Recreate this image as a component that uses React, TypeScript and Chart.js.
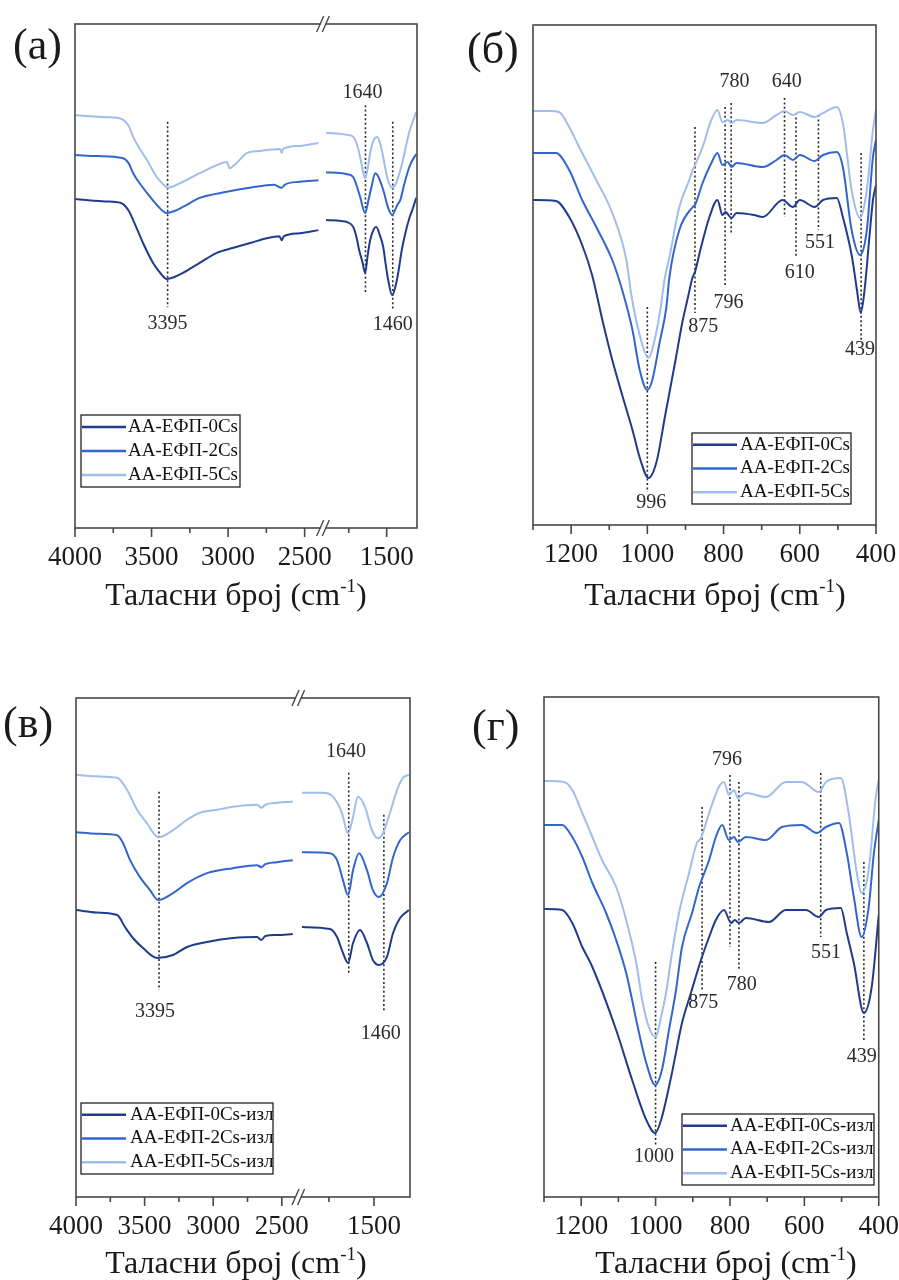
import React, { useEffect, useRef } from "react";
import { Chart, registerables } from "chart.js";
Chart.register(...registerables);

type Pt = [number, number];
type Ann = { axis: string; x: number; y0: number; y1: number; label: string; lx: number; ly: number };

// ---------- labels / colours ----------
const LABELS_1 = ["АА-ЕФП-0Cs", "АА-ЕФП-2Cs", "АА-ЕФП-5Cs"];
const LABELS_2 = ["АА-ЕФП-0Cs-изл", "АА-ЕФП-2Cs-изл", "АА-ЕФП-5Cs-изл"];
const COLORS = ["#203b8c", "#3366cc", "#a0bdec"];
const X_TITLE = "Таласни број (cm";
const X_TITLE_SUP = "-1";
const X_TITLE_END = ")";

// ---------- tick values ----------
const TICKS_HI_MAJOR = [4000, 3500, 3000, 2500];
const TICKS_HI_MINOR = [3750, 3250, 2750];
const TICKS_MID_MAJOR = [1500];
const TICKS_MID_MINOR = [1750];
const TICKS_LO_MAJOR = [1200, 1000, 800, 600, 400];
const TICKS_LO_MINOR = [1300, 1100, 900, 700, 500];

// ---------- panel (а) ----------
const A0_HI: Pt[] = [[4000,65.3],[3900,65.0],[3800,64.8],[3700,64.5],[3650,63.0],[3620,61.1],[3555,56.5],[3490,52.6],[3440,50.5],[3400,49.4],[3350,49.8],[3295,50.6],[3185,52.6],[3074,54.6],[2965,55.6],[2850,56.6],[2748,57.5],[2665,57.9],[2650,57.1],[2635,57.9],[2532,58.5],[2410,59.1]];
const A0_MID: Pt[] = [[1900,61.1],[1800,60.9],[1760,60.7],[1720,59.7],[1700,57.8],[1682,55.2],[1660,52.8],[1642,50.6],[1625,54.2],[1609,57.1],[1585,59.3],[1569,59.7],[1545,58.1],[1523,55.8],[1505,52.0],[1490,49.2],[1464,46.2],[1440,48.2],[1424,50.6],[1400,55.2],[1377,58.5],[1350,61.5],[1331,63.1],[1305,65.5]];
const A2_HI: Pt[] = [[4000,74.0],[3850,73.8],[3690,73.4],[3650,72.4],[3620,70.4],[3580,68.5],[3530,66.5],[3465,64.1],[3400,62.5],[3350,62.9],[3295,63.7],[3185,65.5],[3008,66.7],[2858,67.5],[2700,68.1],[2650,67.5],[2630,68.1],[2532,68.7],[2410,69.0]];
const A2_MID: Pt[] = [[1900,70.6],[1800,70.4],[1760,70.2],[1720,69.6],[1700,68.1],[1675,65.7],[1642,62.5],[1620,65.1],[1600,67.7],[1575,70.4],[1560,70.0],[1523,67.1],[1490,63.5],[1464,62.1],[1430,64.1],[1410,65.1],[1385,68.1],[1364,70.4],[1340,72.4],[1305,74.2]];
const A5_HI: Pt[] = [[4000,81.9],[3900,81.7],[3800,81.5],[3710,81.3],[3650,79.8],[3620,77.6],[3580,75.4],[3530,73.0],[3465,69.6],[3420,68.1],[3395,67.5],[3350,67.9],[3295,68.7],[3185,70.4],[3074,72.0],[3008,72.6],[2990,71.4],[2960,72.0],[2945,72.4],[2878,74.4],[2800,74.8],[2748,75.0],[2660,75.2],[2650,74.4],[2640,75.2],[2532,75.8],[2410,76.4]];
const A5_MID: Pt[] = [[1900,78.4],[1800,78.2],[1760,78.0],[1720,77.6],[1695,76.0],[1675,73.6],[1655,70.6],[1642,69.4],[1625,71.4],[1609,74.4],[1585,77.0],[1563,77.6],[1540,76.0],[1523,73.6],[1495,69.4],[1464,67.5],[1440,68.3],[1410,71.0],[1385,74.0],[1364,77.0],[1340,79.6],[1305,82.5]];
const A_ANN: Ann[] = [
  { axis: "xHi", x: 3395, y0: 80.6, y1: 43.8, label: "3395", lx: 3395, ly: 40.5 },
  { axis: "xMid", x: 1640, y0: 83.9, y1: 46.6, label: "1640", lx: 1660, ly: 86.3 },
  { axis: "xMid", x: 1460, y0: 80.6, y1: 43.3, label: "1460", lx: 1460, ly: 40.3 },
];

// ---------- panel (б) ----------
const B0: Pt[] = [[1300,65.0],[1240,64.8],[1205,61.6],[1171,56.0],[1145,50.0],[1118,41.0],[1092,33.0],[1066,26.0],[1039,19.0],[1018,13.0],[997,9.4],[976,12.6],[953,22.0],[926,33.0],[908,40.6],[895,45.0],[881,49.6],[875,50.6],[861,55.0],[837,61.6],[816,65.0],[803,62.0],[795,62.6],[779,61.4],[766,62.4],[720,62.0],[697,61.6],[645,65.0],[618,63.6],[600,65.0],[561,63.6],[539,65.0],[503,65.4],[487,61.6],[463,53.6],[450,47.0],[440,42.4],[430,47.0],[418,57.0],[408,65.0],[400,68.0]];
const B2: Pt[] = [[1300,74.4],[1240,74.4],[1205,71.0],[1171,65.0],[1134,59.6],[1092,53.0],[1066,47.0],[1039,39.0],[1020,31.0],[1000,27.0],[987,29.0],[968,36.4],[950,43.6],[942,49.6],[916,59.0],[881,63.6],[875,64.0],[855,68.4],[832,72.4],[816,74.4],[803,72.0],[789,72.6],[779,71.6],[766,72.4],[697,71.6],[661,73.0],[640,74.0],[618,73.0],[600,74.0],[561,72.8],[539,74.0],[503,74.6],[487,71.6],[464,59.0],[442,54.0],[424,59.0],[408,73.6],[400,77.0]];
const B5: Pt[] = [[1300,82.8],[1260,82.8],[1232,82.6],[1205,79.6],[1179,75.6],[1134,69.0],[1092,62.4],[1055,53.0],[1042,46.0],[1013,36.0],[997,33.4],[984,36.0],[966,43.0],[955,49.0],[942,53.6],[916,63.6],[890,69.0],[881,71.0],[875,72.0],[855,75.6],[832,81.0],[816,83.0],[803,80.6],[789,81.0],[779,80.4],[766,81.0],[697,80.4],[661,82.0],[640,82.8],[618,82.0],[600,82.6],[561,81.6],[539,82.4],[503,83.6],[487,80.4],[464,67.0],[442,61.4],[424,67.0],[408,79.0],[400,83.0]];
const B_ANN: Ann[] = [
  { axis: "x", x: 1000, y0: 43.6, y1: 6.6, label: "996", lx: 990, ly: 4.4 },
  { axis: "x", x: 875, y0: 79.6, y1: 42.4, label: "875", lx: 853, ly: 39.6 },
  { axis: "x", x: 796, y0: 83.6, y1: 47.6, label: "796", lx: 787, ly: 44.4 },
  { axis: "x", x: 780, y0: 84.4, y1: 58.0, label: "780", lx: 771, ly: 88.6 },
  { axis: "x", x: 640, y0: 85.4, y1: 61.6, label: "640", lx: 634, ly: 88.6 },
  { axis: "x", x: 610, y0: 82.4, y1: 53.4, label: "610", lx: 600, ly: 50.4 },
  { axis: "x", x: 551, y0: 82.0, y1: 59.0, label: "551", lx: 547, ly: 56.4 },
  { axis: "x", x: 439, y0: 74.4, y1: 37.0, label: "439", lx: 442, ly: 35.0 },
];

// ---------- panel (в) ----------
const V0_HI: Pt[] = [[4000,57.5],[3850,57.0],[3700,56.5],[3643,54.1],[3585,51.9],[3512,49.9],[3410,47.9],[3293,48.5],[3191,50.1],[3045,51.1],[2856,51.9],[2680,52.1],[2650,51.5],[2620,52.3],[2535,52.5],[2420,52.7]];
const V0_MID: Pt[] = [[1900,54.1],[1744,53.7],[1705,52.1],[1672,48.9],[1644,46.9],[1616,50.9],[1578,53.5],[1539,50.9],[1506,47.5],[1472,46.5],[1428,48.1],[1394,52.9],[1355,55.9],[1306,57.5]];
const V2_HI: Pt[] = [[4000,73.1],[3850,72.8],[3700,72.5],[3657,70.9],[3606,67.5],[3534,64.1],[3461,61.5],[3402,59.5],[3293,60.9],[3191,62.9],[3045,64.9],[2856,65.9],[2680,66.5],[2650,66.1],[2620,66.7],[2535,67.1],[2420,67.5]];
const V2_MID: Pt[] = [[1900,69.1],[1744,68.9],[1705,67.5],[1672,63.5],[1644,60.5],[1616,65.5],[1583,68.9],[1539,65.5],[1506,61.5],[1472,60.1],[1428,62.9],[1394,68.1],[1355,71.5],[1306,73.1]];
const V5_HI: Pt[] = [[4000,84.6],[3850,84.3],[3700,84.0],[3628,81.6],[3555,77.6],[3483,74.9],[3400,72.1],[3293,73.5],[3191,75.6],[3096,77.0],[2972,77.6],[2856,78.2],[2680,78.6],[2650,78.0],[2620,78.6],[2535,79.0],[2420,79.2]];
const V5_MID: Pt[] = [[1900,81.0],[1783,81.0],[1727,80.2],[1678,77.0],[1644,72.9],[1616,76.2],[1589,80.2],[1550,78.2],[1511,73.5],[1478,71.9],[1450,72.9],[1411,77.0],[1372,81.6],[1339,84.0],[1306,84.6]];
const V_ANN: Ann[] = [
  { axis: "xHi", x: 3395, y0: 81.2, y1: 41.5, label: "3395", lx: 3424, ly: 37.1 },
  { axis: "xMid", x: 1640, y0: 85.0, y1: 44.9, label: "1640", lx: 1655, ly: 89.2 },
  { axis: "xMid", x: 1445, y0: 76.6, y1: 36.9, label: "1460", lx: 1462, ly: 32.7 },
];

// ---------- panel (г) ----------
const G0: Pt[] = [[1300,57.6],[1251,57.4],[1224,54.8],[1197,50.0],[1170,46.0],[1106,33.4],[1063,23.4],[1025,15.4],[1001,12.8],[983,16.0],[956,24.8],[929,34.8],[905,40.8],[878,47.4],[856,52.0],[838,55.4],[816,57.4],[797,54.8],[787,55.4],[776,54.8],[757,55.8],[695,55.0],[650,57.4],[596,57.4],[561,56.0],[542,57.4],[502,57.8],[486,52.8],[467,46.8],[440,36.8],[419,42.0],[400,56.4]];
const G2: Pt[] = [[1300,74.4],[1251,74.4],[1224,72.0],[1197,68.0],[1170,62.8],[1133,56.8],[1106,51.4],[1079,44.8],[1063,39.4],[1052,35.4],[1025,26.8],[1001,22.4],[983,25.4],[964,33.4],[945,41.4],[929,50.0],[902,56.8],[883,62.0],[856,67.4],[838,72.0],[821,74.4],[803,71.4],[789,72.0],[779,71.0],[757,72.0],[703,71.4],[660,74.0],[607,74.4],[566,72.8],[542,74.0],[507,74.8],[486,68.8],[467,60.0],[446,52.0],[427,58.0],[413,68.8],[400,75.4]];
const G5: Pt[] = [[1300,83.2],[1246,83.0],[1224,81.4],[1197,76.8],[1170,72.0],[1144,67.4],[1106,62.0],[1079,55.4],[1052,46.8],[1036,39.4],[1020,34.4],[1001,32.0],[983,36.8],[969,42.0],[964,44.8],[937,56.8],[910,64.8],[889,70.8],[878,71.8],[856,76.8],[830,82.0],[816,83.0],[803,80.4],[789,81.4],[779,79.8],[757,80.8],[703,80.0],[650,83.0],[607,83.0],[561,81.0],[542,83.0],[502,83.8],[481,76.8],[459,64.8],[446,60.8],[427,65.4],[408,80.0],[400,83.4]];
const G_ANN: Ann[] = [
  { axis: "x", x: 1000, y0: 47.0, y1: 10.4, label: "1000", lx: 1004, ly: 8.0 },
  { axis: "x", x: 875, y0: 78.0, y1: 41.4, label: "875", lx: 872, ly: 38.8 },
  { axis: "x", x: 800, y0: 84.4, y1: 50.0, label: "796", lx: 808, ly: 87.4 },
  { axis: "x", x: 776, y0: 83.0, y1: 45.4, label: "780", lx: 768, ly: 42.4 },
  { axis: "x", x: 556, y0: 84.8, y1: 52.0, label: "551", lx: 542, ly: 48.8 },
  { axis: "x", x: 440, y0: 67.0, y1: 31.0, label: "439", lx: 446, ly: 28.0 },
];

// ---------- layout (positions only) ----------
const SERIF = '"Liberation Serif", "Times New Roman", serif';
const PAGE_W = 899;
const PAGE_H = 1280;
const AXIS_H = 40;

interface Segment { id: string; min: number; max: number; weight: number; major: number[]; minor: number[] }
interface Panel {
  letter: string;
  area: { l: number; t: number; r: number; b: number };
  segments: Segment[];
  series: { label: string; color: string; parts: { axis: string; pts: Pt[] }[] }[];
  anns: Ann[];
  letterPos: [number, number];
  titlePos: [number, number];
  legend: { x: number; y: number; w: number; h: number; lineEnd: number; textX: number };
}

const hiSeg = (w: number): Segment => ({ id: "xHi", min: 2380, max: 4000, weight: w, major: TICKS_HI_MAJOR, minor: TICKS_HI_MINOR });
const midSeg = (w: number): Segment => ({ id: "xMid", min: 1300, max: 1920, weight: w, major: TICKS_MID_MAJOR, minor: TICKS_MID_MINOR });
const loSeg: Segment = { id: "x", min: 400, max: 1300, weight: 1, major: TICKS_LO_MAJOR, minor: TICKS_LO_MINOR };

const PANELS: Panel[] = [
  {
    letter: "(а)",
    area: { l: 75, t: 24, r: 417, b: 528 },
    segments: [hiSeg(248), midSeg(94)],
    series: [
      { label: LABELS_1[0], color: COLORS[0], parts: [{ axis: "xHi", pts: A0_HI }, { axis: "xMid", pts: A0_MID }] },
      { label: LABELS_1[1], color: COLORS[1], parts: [{ axis: "xHi", pts: A2_HI }, { axis: "xMid", pts: A2_MID }] },
      { label: LABELS_1[2], color: COLORS[2], parts: [{ axis: "xHi", pts: A5_HI }, { axis: "xMid", pts: A5_MID }] },
    ],
    anns: A_ANN,
    letterPos: [13, 47],
    titlePos: [236, 605],
    legend: { x: 81, y: 415, w: 159, h: 72, lineEnd: 126, textX: 128 },
  },
  {
    letter: "(б)",
    area: { l: 533, t: 25, r: 876, b: 525 },
    segments: [loSeg],
    series: [
      { label: LABELS_1[0], color: COLORS[0], parts: [{ axis: "x", pts: B0 }] },
      { label: LABELS_1[1], color: COLORS[1], parts: [{ axis: "x", pts: B2 }] },
      { label: LABELS_1[2], color: COLORS[2], parts: [{ axis: "x", pts: B5 }] },
    ],
    anns: B_ANN,
    letterPos: [467, 51],
    titlePos: [715, 605],
    legend: { x: 692, y: 433, w: 159, h: 71, lineEnd: 737, textX: 740 },
  },
  {
    letter: "(в)",
    area: { l: 76, t: 698, r: 410, b: 1197 },
    segments: [hiSeg(222.3), midSeg(111.7)],
    series: [
      { label: LABELS_2[0], color: COLORS[0], parts: [{ axis: "xHi", pts: V0_HI }, { axis: "xMid", pts: V0_MID }] },
      { label: LABELS_2[1], color: COLORS[1], parts: [{ axis: "xHi", pts: V2_HI }, { axis: "xMid", pts: V2_MID }] },
      { label: LABELS_2[2], color: COLORS[2], parts: [{ axis: "xHi", pts: V5_HI }, { axis: "xMid", pts: V5_MID }] },
    ],
    anns: V_ANN,
    letterPos: [3, 725],
    titlePos: [236, 1273],
    legend: { x: 81, y: 1103, w: 192, h: 71, lineEnd: 126, textX: 130 },
  },
  {
    letter: "(г)",
    area: { l: 544, t: 697, r: 880, b: 1197 },
    segments: [loSeg],
    series: [
      { label: LABELS_2[0], color: COLORS[0], parts: [{ axis: "x", pts: G0 }] },
      { label: LABELS_2[1], color: COLORS[1], parts: [{ axis: "x", pts: G2 }] },
      { label: LABELS_2[2], color: COLORS[2], parts: [{ axis: "x", pts: G5 }] },
    ],
    anns: G_ANN,
    letterPos: [472, 728],
    titlePos: [726, 1273],
    legend: { x: 682, y: 1114, w: 192, h: 71, lineEnd: 727, textX: 730 },
  },
];

function makeDecor(p: Panel) {
  return {
    id: "decor",
    afterDraw(chart: any) {
      const ctx: CanvasRenderingContext2D = chart.ctx;
      const ca = chart.chartArea;
      const ys = chart.scales.y;
      ctx.save();
      // frame
      ctx.strokeStyle = "#484848";
      ctx.lineWidth = 1.6;
      ctx.strokeRect(ca.left, ca.top, ca.right - ca.left, ca.bottom - ca.top);
      // tick marks
      ctx.beginPath();
      p.segments.forEach((seg) => {
        const sc = chart.scales[seg.id];
        seg.major.forEach((v) => {
          const x = sc.getPixelForValue(v);
          ctx.moveTo(x, ca.bottom);
          ctx.lineTo(x, ca.bottom + 9);
        });
        seg.minor.forEach((v) => {
          const x = sc.getPixelForValue(v);
          ctx.moveTo(x, ca.bottom);
          ctx.lineTo(x, ca.bottom + 5);
        });
      });
      ctx.stroke();
      // axis breaks
      if (p.segments.length > 1) {
        const bx = chart.scales[p.segments[0].id].right;
        [ca.top, ca.bottom].forEach((y: number) => {
          ctx.fillStyle = "#ffffff";
          ctx.fillRect(bx - 2.5, y - 2, 5, 4);
          ctx.beginPath();
          [-2.8, 2.8].forEach((d) => {
            ctx.moveTo(bx + d - 3.5, y + 8);
            ctx.lineTo(bx + d + 3.5, y - 8);
          });
          ctx.lineWidth = 1.4;
          ctx.stroke();
        });
      }
      // annotation labels
      ctx.fillStyle = "#2b2b2b";
      ctx.font = `20px ${SERIF}`;
      ctx.textAlign = "center";
      ctx.textBaseline = "middle";
      p.anns.forEach((a) => {
        const sc = chart.scales[a.axis];
        ctx.fillText(a.label, sc.getPixelForValue(a.lx), ys.getPixelForValue(a.ly));
      });
      // panel letter
      ctx.fillStyle = "#1a1a1a";
      ctx.font = `44px ${SERIF}`;
      ctx.textAlign = "left";
      ctx.fillText(p.letter, p.letterPos[0], p.letterPos[1]);
      // axis title with superscript
      ctx.textBaseline = "alphabetic";
      ctx.font = `32px ${SERIF}`;
      const w1 = ctx.measureText(X_TITLE).width;
      const w3 = ctx.measureText(X_TITLE_END).width;
      ctx.font = `19px ${SERIF}`;
      const w2 = ctx.measureText(X_TITLE_SUP).width;
      let tx = p.titlePos[0] - (w1 + w2 + w3) / 2;
      const ty = p.titlePos[1];
      ctx.font = `32px ${SERIF}`;
      ctx.fillText(X_TITLE, tx, ty);
      tx += w1;
      ctx.font = `19px ${SERIF}`;
      ctx.fillText(X_TITLE_SUP, tx, ty - 13);
      tx += w2;
      ctx.font = `32px ${SERIF}`;
      ctx.fillText(X_TITLE_END, tx, ty);
      // legend
      const lg = p.legend;
      ctx.fillStyle = "#ffffff";
      ctx.fillRect(lg.x, lg.y, lg.w, lg.h);
      ctx.strokeStyle = "#222222";
      ctx.lineWidth = 1.3;
      ctx.strokeRect(lg.x, lg.y, lg.w, lg.h);
      ctx.font = `19px ${SERIF}`;
      ctx.textBaseline = "middle";
      p.series.forEach((s, i) => {
        const y = lg.y + (lg.h * (2 * i + 1)) / 6;
        ctx.strokeStyle = s.color;
        ctx.lineWidth = 2.5;
        ctx.beginPath();
        ctx.moveTo(lg.x + 1, y);
        ctx.lineTo(lg.lineEnd, y);
        ctx.stroke();
        ctx.fillStyle = "#111111";
        ctx.fillText(s.label, lg.textX, y);
      });
      ctx.restore();
    },
  };
}

function buildConfig(p: Panel): any {
  const datasets: any[] = [];
  p.series.forEach((s) =>
    s.parts.forEach((part) =>
      datasets.push({
        type: "line",
        label: s.label,
        data: part.pts.map(([x, y]) => ({ x, y })),
        xAxisID: part.axis,
        yAxisID: "y",
        borderColor: s.color,
        backgroundColor: s.color,
        borderWidth: 2,
        pointRadius: 0,
        fill: false,
        cubicInterpolationMode: "monotone",
      })
    )
  );
  p.anns.forEach((a) =>
    datasets.push({
      type: "line",
      label: "ann-" + a.label,
      data: [{ x: a.x, y: a.y0 }, { x: a.x, y: a.y1 }],
      xAxisID: a.axis,
      yAxisID: "y",
      borderColor: "#2a2a2a",
      borderWidth: 1.6,
      borderDash: [2, 2.4],
      pointRadius: 0,
      fill: false,
    })
  );
  const scales: any = { y: { type: "linear", display: false, min: 0, max: 100 } };
  const broken = p.segments.length > 1;
  p.segments.forEach((seg) => {
    const conf: any = {
      type: "linear",
      axis: "x",
      position: "bottom",
      min: seg.min,
      max: seg.max,
      reverse: true,
      offset: false,
      grid: { display: true, drawOnChartArea: false, drawTicks: true, tickLength: 14, tickColor: "rgba(0,0,0,0)" },
      border: { display: false },
      ticks: {
        autoSkip: false,
        maxRotation: 0,
        minRotation: 0,
        padding: 0,
        color: "#1a1a1a",
        font: { family: SERIF, size: 27 },
        callback: (v: any) => String(v),
      },
      afterBuildTicks: (sc: any) => {
        sc.ticks = seg.major.map((v) => ({ value: v }));
      },
      afterFit: (sc: any) => {
        sc.height = AXIS_H;
      },
    };
    if (broken) {
      conf.stack = "xstack";
      conf.stackWeight = seg.weight;
    }
    scales[seg.id] = conf;
  });
  return {
    type: "line",
    data: { datasets },
    options: {
      responsive: false,
      maintainAspectRatio: false,
      devicePixelRatio: 1,
      animation: false,
      layout: {
        autoPadding: false,
        padding: {
          left: p.area.l,
          top: p.area.t,
          right: PAGE_W - p.area.r,
          bottom: PAGE_H - p.area.b - AXIS_H,
        },
      },
      plugins: { legend: { display: false }, tooltip: { enabled: false }, title: { display: false } },
      events: [],
      scales,
    },
    plugins: [makeDecor(p)],
  };
}

function PanelChart({ panel }: { panel: Panel }) {
  const ref = useRef<HTMLCanvasElement>(null);
  useEffect(() => {
    const chart = new Chart(ref.current as HTMLCanvasElement, buildConfig(panel));
    return () => chart.destroy();
  }, [panel]);
  return (
    <canvas
      ref={ref}
      width={PAGE_W}
      height={PAGE_H}
      style={{ position: "absolute", left: 0, top: 0, width: PAGE_W, height: PAGE_H }}
    />
  );
}

export default function App() {
  return (
    <div style={{ position: "absolute", left: 0, top: 0, width: PAGE_W, height: PAGE_H, background: "#ffffff", overflow: "hidden" }}>
      {PANELS.map((p, i) => (
        <PanelChart key={i} panel={p} />
      ))}
    </div>
  );
}
